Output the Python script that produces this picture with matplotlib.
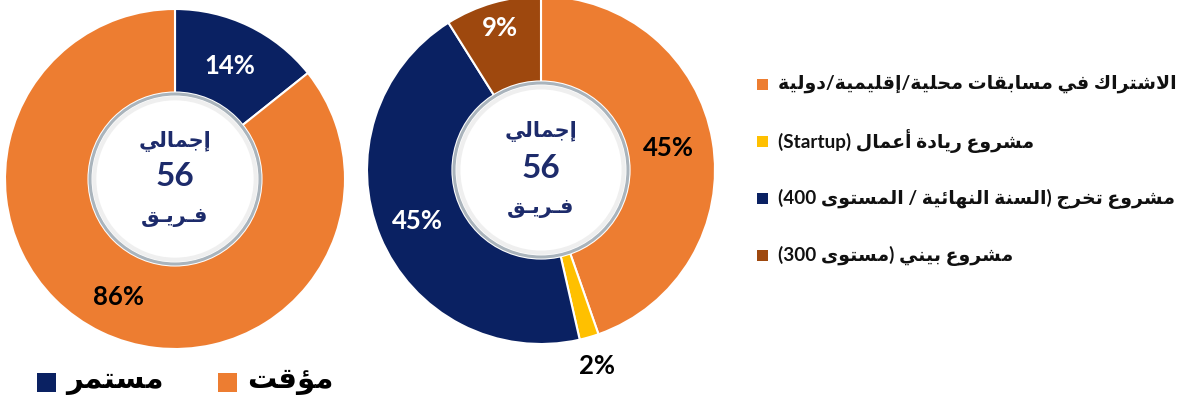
import matplotlib
matplotlib.use('Agg')
import matplotlib.pyplot as plt
from matplotlib.patches import Circle, Rectangle
import numpy as np

W, H = 1192, 403

# ---- data ----
type_labels = ['مستمر', 'مؤقت']
type_counts = [8, 48]
type_colors = ['#0a2162', '#ed7d31']
type_text_colors = ['white', 'black']

project_labels = ['الاشتراك في مسابقات محلية/إقليمية/دولية',
                  'مشروع ريادة أعمال (Startup)',
                  'مشروع تخرج (السنة النهائية / المستوى 400)',
                  'مشروع بيني (مستوى 300)']
project_counts = [25, 1, 25, 5]
project_colors = ['#ed7d31', '#ffc000', '#0a2162', '#9e480e']
project_text_colors = ['black', 'black', 'white', 'white']

total_word = 'إجمالي'
team_word = 'فـريـق'

navy_text = '#1d2b6b'

# ---- minimal arabic shaping (no reshaper lib available) ----
RIGHT_JOIN = {'\u0622': 0xFE81, '\u0623': 0xFE83, '\u0624': 0xFE85, '\u0625': 0xFE87,
              '\u0627': 0xFE8D, '\u0629': 0xFE93, '\u062F': 0xFEA9, '\u0630': 0xFEAB,
              '\u0631': 0xFEAD, '\u0632': 0xFEAF, '\u0648': 0xFEED, '\u0649': 0xFEEF}
DUAL_JOIN = {'\u0626': 0xFE89, '\u0628': 0xFE8F, '\u062A': 0xFE95, '\u062B': 0xFE99,
             '\u062C': 0xFE9D, '\u062D': 0xFEA1, '\u062E': 0xFEA5, '\u0633': 0xFEB1,
             '\u0634': 0xFEB5, '\u0635': 0xFEB9, '\u0636': 0xFEBD, '\u0637': 0xFEC1,
             '\u0638': 0xFEC5, '\u0639': 0xFEC9, '\u063A': 0xFECD, '\u0641': 0xFED1,
             '\u0642': 0xFED5, '\u0643': 0xFED9, '\u0644': 0xFEDD, '\u0645': 0xFEE1,
             '\u0646': 0xFEE5, '\u0647': 0xFEE9, '\u064A': 0xFEF1}
LAM_ALEF = {'\u0622': 0xFEF5, '\u0623': 0xFEF7, '\u0625': 0xFEF9, '\u0627': 0xFEFB}
TATWEEL = '\u0640'
MIRROR = {'(': ')', ')': '('}


def jtype(c):
    if c in DUAL_JOIN or c == TATWEEL:
        return 'D'
    if c in RIGHT_JOIN:
        return 'R'
    return 'U'


def shape(text):
    # merge lam + alef first
    units = []
    i = 0
    while i < len(text):
        c = text[i]
        if c == '\u0644' and i + 1 < len(text) and text[i + 1] in LAM_ALEF:
            units.append(('LA', text[i + 1]))
            i += 2
        else:
            units.append(('C', c))
            i += 1

    def ut(u):
        return 'R' if u[0] == 'LA' else jtype(u[1])

    out = []
    for k, u in enumerate(units):
        t = ut(u)
        prev_ok = k > 0 and ut(units[k - 1]) == 'D' and t in 'DR'
        next_ok = k + 1 < len(units) and t == 'D' and ut(units[k + 1]) in 'DR'
        if u[0] == 'LA':
            base = LAM_ALEF[u[1]]
            out.append(chr(base + (1 if prev_ok else 0)))
            continue
        c = u[1]
        if c == TATWEEL or t == 'U':
            out.append(c)
        elif t == 'R':
            out.append(chr(RIGHT_JOIN[c] + (1 if prev_ok else 0)))
        else:
            base = DUAL_JOIN[c]
            if prev_ok and next_ok:
                out.append(chr(base + 3))
            elif next_ok:
                out.append(chr(base + 2))
            elif prev_ok:
                out.append(chr(base + 1))
            else:
                out.append(chr(base))
    return ''.join(out)


def ar(text):
    s = shape(text)
    runs = []
    for c in s:
        ltr = c.isascii() and c.isalnum()
        if runs and runs[-1][0] == ltr:
            runs[-1][1].append(c)
        else:
            runs.append([ltr, [c]])
    parts = []
    for ltr, chars in reversed(runs):
        if ltr:
            parts.append(''.join(chars))
        else:
            parts.append(''.join(MIRROR.get(c, c) for c in reversed(chars)))
    return ''.join(parts)


AR_FONT = ['DejaVu Sans']
MIX_FONT = ['Lato', 'DejaVu Sans']

fig = plt.figure(figsize=(W / 100, H / 100), dpi=100)
ax = fig.add_axes([0, 0, 1, 1])


def donut(counts, colors, txt_colors, cx, cy, r, dists):
    wedges, _ = ax.pie(counts, colors=colors, startangle=90, counterclock=False,
                       radius=r, center=(cx, cy),
                       wedgeprops=dict(width=r * 0.5, edgecolor='white', linewidth=1.5))
    total = sum(counts)
    for w, c, tc, d in zip(wedges, counts, txt_colors, dists):
        mid = np.deg2rad((w.theta1 + w.theta2) / 2)
        ax.text(cx + d * r * np.cos(mid), cy + d * r * np.sin(mid),
                f'{round(100 * c / total)}%', ha='center', va='center',
                fontsize=18.5, fontweight='bold', color=tc, family='Lato', zorder=5)
    # white centre disc with grey rim
    ax.add_patch(Circle((cx, cy), r * 0.515, fc='white', ec='none', zorder=3))
    ax.add_patch(Circle((cx, cy), r * 0.5, fc='white', ec='#aab4bc', lw=2.2, zorder=4))
    ax.add_patch(Circle((cx, cy), r * 0.475, fc='none', ec='#efefef', lw=3, zorder=4))
    ax.text(cx, cy + 38, ar(total_word), ha='center', va='center', fontsize=15,
            fontweight='bold', color=navy_text, family=AR_FONT, zorder=6)
    ax.text(cx, cy + 2, str(total), ha='center', va='center', fontsize=24,
            fontweight='bold', color=navy_text, family='Lato', zorder=6)
    ax.text(cx, cy - 38, ar(team_word), ha='center', va='center', fontsize=15,
            fontweight='bold', color=navy_text, family=AR_FONT, zorder=6)


donut(type_counts, type_colors, type_text_colors, 175, H - 179, 170, [0.74, 0.77])
donut(project_counts, project_colors, project_text_colors, 541, H - 170, 174,
      [0.74, 1.17, 0.77, 0.85])

# right legend
for i, (lab, col) in enumerate(zip(project_labels, project_colors)):
    y = H - (84 + i * 57.3)
    ax.add_patch(Rectangle((757, y - 5.5), 11, 11, fc=col, ec='none'))
    ax.text(778, y, ar(lab), ha='left', va='center', fontsize=13.6, fontweight='bold',
            color='#111111', family=MIX_FONT)

# bottom legend of left donut
bottom_x = [37, 218]
for x, lab, col in zip(bottom_x, type_labels, type_colors):
    ax.add_patch(Rectangle((x, H - 392), 19, 19, fc=col, ec='none'))
    ax.text(x + 29, H - 381, ar(lab), ha='left', va='center', fontsize=21,
            fontweight='bold', color='black', family=AR_FONT)

ax.set_xlim(0, W)
ax.set_ylim(0, H)
ax.set_aspect('equal')
ax.axis('off')

fig.savefig('out.png', dpi=100, facecolor='white')
